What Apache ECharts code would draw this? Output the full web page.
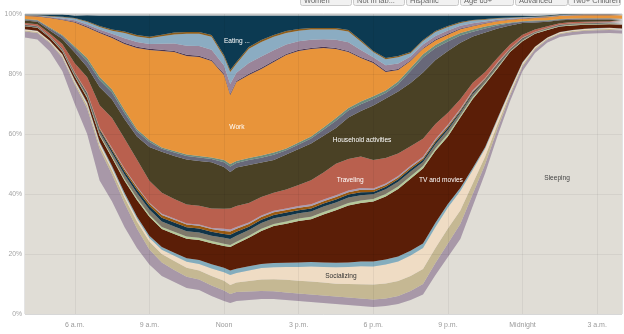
<!DOCTYPE html>
<html><head><meta charset="utf-8">
<script src="https://cdn.jsdelivr.net/npm/echarts@6/dist/echarts.min.js"></script>
<style>html,body{margin:0;padding:0;background:#fff}#c{width:624px;height:334px}</style>
</head><body><div id="c"></div>
<script>
// Time of day in hours (4 a.m. to 4 a.m. next day)
const hours = [4,4.5,5,5.5,6,6.5,7,7.5,8,8.5,9,9.5,10,10.5,11,11.5,12,12.25,12.5,13,13.5,14,14.5,15,15.5,16,16.5,17,17.5,18,18.5,19,19.5,20,20.5,21,21.5,22,22.5,23,23.5,24,24.5,25,25.5,26,26.5,27,27.5,28];
const tickHours = [6,9,12,15,18,21,24,27];
const tickLabels = ['6 a.m.','9 a.m.','Noon','3 p.m.','6 p.m.','9 p.m.','Midnight','3 a.m.'];
const buttonLabels = ['Women','Not in lab...','Hispanic','Age 65+','Advanced','Two+ Children'];

// Share of people (%) doing each activity, bottom to top
const sleeping     = [92.2,91.5,87.5,81,70,60,44.5,37.5,29,22,16.5,12.7,10.7,8.7,8,6,4.3,3.7,4.3,4.7,5,5,4.7,4.3,4,3.7,3.3,3,2.7,2.3,2.7,3.3,4.7,6.5,13,19,25,36,47,59.5,71,81,87,90.5,92.3,93,93.4,93.6,93.7,93.5];
const personalCare = [2.0,2.2,2.8,4.5,6.5,8.5,10.5,9,8,6.5,5,4.5,4,3.7,3.5,3.5,3.5,3.0,3.0,2.8,2.7,2.6,2.5,2.5,2.5,2.5,2.5,2.5,2.5,2.5,2.5,2.7,3,3.5,4,4.5,5,4,3,2.3,1.8,1.5,1.2,1.0,1.0,1.0,1.0,1.0,1.0,1.0];
const relaxing     = [.3,.3,.4,.5,.7,1.0,1.2,1.4,1.8,2.3,2.7,2.8,3,3,3,3.2,3.3,3.0,3.2,3.5,3.8,4,4.2,4.3,4.3,4.3,4.3,4.5,4.7,5,5,5,5,5,5,5,4.5,3.5,2.5,1.5,.9,.6,.4,.3,.3,.3,.3,.3,.3,.3];
const socializing  = [.3,.3,.3,.4,.5,.6,.7,.8,.9,1.0,1.1,1.4,1.7,2.0,2.2,2.5,2.8,3.3,3.2,3.5,3.8,4,4.3,4.6,5,5.2,5.5,5.7,6,6,6.3,6.5,6.8,7,7,7,6.5,4.5,2.7,1.6,.8,.6,.4,.3,.3,.3,.3,.3,.3,.3];
const otherLeisure = [.1,.1,.1,.2,.3,.4,.5,.6,.7,.7,.8,.9,1.0,1.2,1.3,1.4,1.5,1.5,1.4,1.4,1.4,1.4,1.4,1.5,1.5,1.5,1.5,1.5,1.6,1.7,1.7,1.7,1.6,1.5,1.4,1.2,1.0,.7,.5,.4,.3,.2,.1,.1,.1,.1,.1,.1,.1,.1];
const tvMovies     = [1.0,1.0,1.0,1.0,1.2,1.5,2,2.7,4,5.5,6.3,6,6.3,6.5,6.7,7,7.3,7.8,8.3,9.5,11,12.3,13,13.8,14.3,16,17.5,19,19.5,20,21,22.5,24,25,24,22.5,23.5,23,21,16.6,12.5,7,4.3,2.5,1.8,1.5,1.3,1.2,1.2,1.2];
const sports       = [.1,.1,.1,.2,.2,.3,.4,.5,.6,.7,.7,.7,.7,.7,.7,.7,.7,.7,.7,.7,.7,.7,.7,.8,.8,.8,.8,.8,.8,.8,.8,.8,.8,.8,.8,.8,.6,.6,.4,.4,.3,.3,.2,.2,.2,.2,.2,.2,.2,.2];
const religious    = [.2,.2,.2,.3,.5,.7,1.0,1.2,1.5,1.6,1.7,1.8,1.8,1.8,1.8,1.8,2.0,2.0,2.0,1.9,1.9,1.9,1.9,1.8,1.8,1.8,1.8,1.8,1.8,1.6,1.6,1.6,1.6,1.4,1.4,1.4,1.0,1.0,.7,.7,.4,.4,.2,.2,.2,.2,.2,.2,.2,.2];
const volunteering = [.1,.1,.1,.2,.3,.4,.6,.8,1.0,1.1,1.2,1.3,1.3,1.3,1.3,1.3,1.3,1.4,1.3,1.1,1.1,1.1,1.1,1.0,1.0,1.0,1.0,1.0,1.0,.8,.8,.8,.8,.7,.7,.7,.5,.5,.3,.3,.2,.2,.1,.1,.1,.1,.1,.1,.1,.1];
const phoneMail    = [.1,.1,.1,.1,.2,.3,.4,.5,.7,.8,.8,.9,.9,.9,.9,.9,1.0,1.1,1.0,.9,.9,.9,.9,.8,.8,.8,.8,.8,.8,.6,.6,.6,.6,.5,.5,.5,.4,.4,.3,.3,.2,.2,.1,.1,.1,.1,.1,.1,.1,.1];
const profCare     = [.1,.1,.1,.1,.2,.2,.3,.3,.3,.3,.3,.4,.4,.4,.4,.4,.7,.7,.6,.5,.5,.5,.5,.6,.6,.6,.6,.6,.6,.5,.5,.5,.5,.5,.5,.5,.4,.4,.3,.3,.2,.2,.1,.1,.1,.1,.1,.1,.1,.1];
const traveling    = [.5,.6,.8,1.5,3,5,7.5,10,10,9,7.3,7,6.5,6.3,6.3,6.5,6.7,7.0,7.0,6.5,6.2,6.0,6.3,7,8,9,10.5,10.5,10.5,9.5,8.5,7.5,6.5,6,5,4,3.2,2.5,2,1.5,1.2,.9,.7,.5,.4,.4,.3,.3,.3,.3];
const household    = [.8,.8,1.0,1.7,3.6,3.4,6.1,6.2,6.5,7.7,11.3,13.7,14.4,15,14.9,15.4,13.9,12.1,12.8,12.7,11.5,10.9,11.7,12.0,12.2,12.2,11.9,13.8,15.2,18.2,19.8,20.7,21.1,22.1,21.4,20.6,18.8,15.4,13.1,9.8,6.4,3.9,2.4,1.5,1.0,.8,.8,.7,.6,.6];
const shopping     = [.3,.4,.7,1.0,1.4,2.0,2.3,2.3,2.0,1.7,1.6,1.0,1.1,1.2,1.2,1.1,1.6,1.9,1.5,1.6,1.6,1.8,1.4,1.5,1.7,2.0,2.4,2.3,2.2,2.2,1.9,2.4,4,5,4,3.1,2.4,1.6,1.4,1.0,.7,.4,.4,.3,.3,.3,.3,.3,.3,.3];
const caring       = [.2,.2,.3,.3,.6,1.0,1.0,1.0,1.0,.7,.7,.4,.5,.5,.5,.5,.7,.8,.7,.7,.7,.7,.6,.7,.7,.8,.9,.9,.9,.9,.8,.9,1,1.1,1,1.0,.9,.7,.6,.4,.3,.2,.2,.2,.1,.1,.1,.1,.1,.1];
const work         = [1.0,1.2,3.2,5.0,8.0,10.2,14.7,17.2,22,27.1,30,32.2,33,32.8,33,32.1,28.4,23,26.3,27.7,28.9,30.2,31.1,30.5,29.1,26.5,23,18.6,14.5,11.1,6.2,3.8,2.3,1.8,1.5,1.3,1.2,1.1,1.0,1.0,.9,.8,.9,1.0,1.0,1.0,1.0,1.0,1.0,1.1];
const education    = [.1,.1,.1,.2,.2,.3,.3,.4,.4,.4,.4,.4,.4,.4,.4,.4,.4,.4,.4,.4,.4,.4,.4,.4,.4,.4,.4,.4,.4,.4,.4,.4,.3,.3,.3,.3,.3,.2,.2,.1,.1,.1,.1,.1,.1,.1,.1,.1,.1,.1];
const childCare    = [.1,.1,.2,.3,.5,.7,.8,1.0,1.5,1.6,1.6,2.0,2.5,3.0,3.2,3.4,2.7,3.3,2.7,3.6,3.7,3.5,3.1,2.8,2.7,2.5,2.7,2.9,2.3,1.5,1.8,1.8,1.2,1.1,1.2,1.1,.9,.8,.5,.4,.2,.2,.1,.1,.1,.1,.1,.1,.1,.1];
const foodPrep     = [.1,.1,.2,.4,.6,.8,.9,1.0,1.8,1.8,1.9,2.5,3.0,4.0,4.1,4.3,2.9,4.0,3.0,4.7,4.9,4.5,3.9,3.5,3.4,3.2,3.4,3.6,2.8,1.7,2.0,2.1,1.1,1.2,1.3,1.2,.9,.9,.6,.4,.3,.2,.1,.1,.1,.1,.1,.1,.1,.1];
const misc         = [.1,.1,.1,.2,.2,.3,.3,.4,.5,.5,.5,.5,.6,.6,.6,.6,.6,.6,.6,.6,.6,.6,.6,.6,.5,.5,.5,.5,.5,.4,.4,.4,.4,.3,.3,.3,.3,.2,.2,.2,.1,.1,.1,.1,.1,.1,.1,.1,.1,.1];
const eating       = [.1,.2,.5,.7,.8,2.0,3.5,4.7,5.3,6.5,7.1,6.4,5.7,5.5,5.5,6.5,13.2,18.2,15.5,10.5,8.2,6.5,5.2,4.5,4.2,4.2,4.2,4.8,8.2,11.8,14.2,13.5,12.2,8.2,5.2,3.5,2.2,1.5,1.2,.8,.7,.5,.3,.3,.2,.1,.1,.1,.1,.1];
const other        = [.2,.2,.2,.2,.5,.5,.5,.5,.5,.5,.5,.5,.5,.5,.5,.5,.5,.5,.5,.5,.5,.5,.5,.5,.5,.5,.5,.5,.5,.5,.5,.5,.5,.5,.5,.5,.5,.5,.5,.5,.5,.5,.4,.5,.2,.1,.1,.1,.1,.1];

const layers = [
  ['Sleeping', sleeping, '#e0ddd6'],
  ['Personal care', personalCare, '#a898a8'],
  ['Relaxing and thinking', relaxing, '#c5b893'],
  ['Socializing', socializing, '#efdcc4'],
  ['Other leisure', otherLeisure, '#84adbd'],
  ['TV and movies', tvMovies, '#5b1e07'],
  ['Sports and exercise', sports, '#b6c99a'],
  ['Religious activities', religious, '#7e786a'],
  ['Volunteering', volunteering, '#103448'],
  ['Phone, mail and e-mail', phoneMail, '#9a5a10'],
  ['Professional care', profCare, '#a99cb4'],
  ['Traveling', traveling, '#b9604e'],
  ['Household activities', household, '#4a4125'],
  ['Shopping', shopping, '#686879'],
  ['Caring for others', caring, '#6c8d7e'],
  ['Work', work, '#e8943a'],
  ['Education', education, '#4b3550'],
  ['Caring for children', childCare, '#9a8499'],
  ['Food preparation', foodPrep, '#8bacc2'],
  ['Miscellaneous', misc, '#8b5d1d'],
  ['Eating and drinking', eating, '#0c3a52'],
  ['Other', other, '#d3d3d3']
];

const labelSpots = [
  ['Eating ...', 12.52, 91, '#ffffff'],
  ['Work', 12.52, 62.3, '#ffffff'],
  ['Household activities', 17.55, 58, '#ffffff'],
  ['Traveling', 17.07, 44.7, '#ffffff'],
  ['TV and movies', 20.72, 44.7, '#ffffff'],
  ['Sleeping', 25.39, 45.3, '#444444'],
  ['Socializing', 16.7, 12.7, '#333333']
];

const FONT = '"Liberation Sans", Arial, Helvetica, sans-serif';
const chart = echarts.init(document.getElementById('c'), null, {renderer: 'canvas'});

// Value first, hour second: the first numeric dimension is the one ECharts stacks.
const series = layers.map(([name, vals, color]) => ({
  name, type: 'line', stack: 'day',
  dimensions: ['share', 'hour'],
  encode: {x: 'hour', y: 'share'},
  data: hours.map((h, i) => [vals[i], h]),
  showSymbol: false, symbol: 'none', smooth: false,
  lineStyle: {width: 0, opacity: 0},
  areaStyle: {color, opacity: 1},
  itemStyle: {color},
  emphasis: {disabled: true}, silent: true, animation: false
}));

chart.setOption({
  animation: false,
  grid: {left: 25, right: 2, top: 14, bottom: 20, show: true,
         backgroundColor: '#d3d3d3', borderColor: '#c8c8c8', borderWidth: 1},
  xAxis: {
    type: 'value', min: 4, max: 28, z: 10,
    axisLine: {show: false},
    axisTick: {show: false, customValues: tickHours},
    axisLabel: {customValues: tickHours,
      formatter: v => tickLabels[tickHours.indexOf(v)] || '',
      color: '#9a9a9a', fontSize: 7, margin: 8, fontFamily: FONT},
    splitLine: {show: true, lineStyle: {color: 'rgba(0,0,0,0.05)', width: 1}}
  },
  yAxis: {
    type: 'value', min: 0, max: 100, interval: 20, z: 10,
    axisLine: {show: false}, axisTick: {show: false},
    axisLabel: {formatter: '{value}%', color: '#a5a5a5', fontSize: 6.8, margin: 3, fontFamily: FONT},
    splitLine: {show: true, lineStyle: {color: 'rgba(0,0,0,0.05)', width: 1}}
  },
  series
});

const graphics = [];
labelSpots.forEach(([text, h, p, color]) => {
  const [px, py] = chart.convertToPixel({gridIndex: 0}, [h, p]);
  graphics.push({type: 'text', x: px, y: py, z: 100, silent: true,
    style: {text, fill: color, font: '6.6px ' + FONT, textAlign: 'center', textVerticalAlign: 'middle'}});
});
// Partially visible filter buttons along the top edge
const btnX = [300, 353, 406, 460, 515, 568];
const btnW = [51, 51, 52, 53, 52, 52];
buttonLabels.forEach((txt, i) => {
  graphics.push({type: 'rect', z: 100, silent: true,
    shape: {x: btnX[i] + 0.5, y: -12.5, width: btnW[i], height: 18, r: 2},
    style: {fill: '#f1f1f1', stroke: '#c9c9c9', lineWidth: 1}});
  graphics.push({type: 'text', z: 101, silent: true, x: btnX[i] + 4, y: 0.5,
    style: {text: txt, fill: '#666', font: '7.5px ' + FONT, textVerticalAlign: 'middle'}});
});
chart.setOption({graphic: graphics});
</script>
</body></html>
